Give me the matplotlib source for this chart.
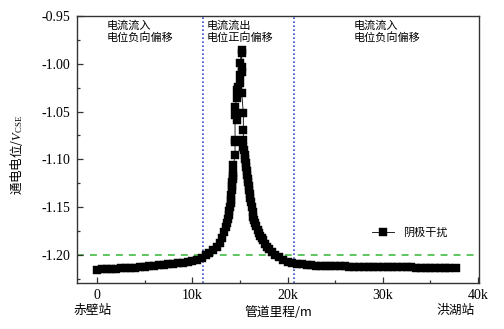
import matplotlib
matplotlib.use("Agg")
import matplotlib.pyplot as plt
from matplotlib.ticker import FixedLocator, MultipleLocator

plt.rcParams['font.family'] = ['Liberation Serif', 'Noto Sans CJK SC']
plt.rcParams['mathtext.fontset'] = 'custom'
plt.rcParams['mathtext.rm'] = 'Liberation Serif'
plt.rcParams['mathtext.it'] = 'Liberation Serif:italic'

CJK = ['Noto Sans CJK SC']

# pipeline mileage (m) and on-potential (V vs CSE)
mileage_west = [0, 500, 1000, 1500, 2000, 2500, 3000, 3500, 4000, 4500,
                5000, 5500, 6000, 6500, 7000, 7500, 8000, 8500, 9000, 9500,
                10000, 10500, 11000, 11400, 11800, 12200, 12600, 12900, 13150,
                13350, 13500, 13650, 13750, 13830, 13900, 13965, 14020, 14070,
                14110, 14140, 14180, 14220, 14260, 14290, 14310, 14310, 14490,
                14490]
potential_west = [-1.2152, -1.2150, -1.2148, -1.2146, -1.2144, -1.2141, -1.2138,
                  -1.2135, -1.2132, -1.2128, -1.2123, -1.2119, -1.2114, -1.2109,
                  -1.2104, -1.2098, -1.2092, -1.2086, -1.2080, -1.2074, -1.2068,
                  -1.2055, -1.2035, -1.2005, -1.1975, -1.1945, -1.1915, -1.1870,
                  -1.1820, -1.1760, -1.1710, -1.1665, -1.1620, -1.1580, -1.1540,
                  -1.1500, -1.1460, -1.1420, -1.1370, -1.1320, -1.1280, -1.1240,
                  -1.1200, -1.1170, -1.1140, -1.1060, -1.0954, -1.0820]

mileage_peak = [14490, 14490, 14670, 14490, 14670, 14670, 14805, 15015, 15015,
                15190, 15190, 15190, 15015, 15190, 15190, 15360, 15360, 15360,
                15360, 15465, 15540]
potential_peak = [-1.0797, -1.0536, -1.0588, -1.0449, -1.0361, -1.0274, -1.0240,
                  -1.0204, -1.0117, -1.0030, -0.9890, -0.9860, -0.9992, -1.0090,
                  -1.0305, -1.0515, -1.0692, -1.0797, -1.0867, -1.0902, -1.0954]

mileage_east = [15580, 15620, 15660, 15710, 15760, 15810, 15870, 15930, 15990,
                16050, 16110, 16170, 16245, 16330, 16420, 16500, 16590, 16720,
                16860, 17000, 17150, 17300, 17430, 17640, 17850, 18100, 18400,
                18690, 19100, 19550, 20055, 20500, 21000, 21500, 22000, 22500,
                23000, 23500, 24000, 24500, 25000, 25500, 26000, 26500, 27000,
                27500, 28000, 28500, 29000, 29500, 30000, 30500, 31000, 31500,
                32000, 32500, 33000, 33500, 34000, 34500, 35000, 35500, 36000,
                36500, 37000, 37700]
potential_east = [-1.1000, -1.1040, -1.1080, -1.1120, -1.1160, -1.1200, -1.1240,
                  -1.1280, -1.1320, -1.1360, -1.1400, -1.1450, -1.1500, -1.1550,
                  -1.1600, -1.1630, -1.1665, -1.1700, -1.1740, -1.1770, -1.1800,
                  -1.1820, -1.1843, -1.1880, -1.1916, -1.1940, -1.1970, -1.2000,
                  -1.2025, -1.2048, -1.2070, -1.2082, -1.2092, -1.2098, -1.2103,
                  -1.2107, -1.2110, -1.2113, -1.2115, -1.2117, -1.2118, -1.2119,
                  -1.2120, -1.2121, -1.2121, -1.2122, -1.2122, -1.2123, -1.2123,
                  -1.2124, -1.2124, -1.2125, -1.2126, -1.2127, -1.2128, -1.2129,
                  -1.2130, -1.2131, -1.2132, -1.2133, -1.2134, -1.2135, -1.2136,
                  -1.2137, -1.2138, -1.2139]

mileage = mileage_west + mileage_peak + mileage_east
potential = potential_west + potential_peak + potential_east

criterion = -1.20                 # green reference line
boundaries = [11130, 20685]       # blue dotted zone limits

x_ticks = [0, 10000, 20000, 30000, 40000]
x_tick_labels = ['0', '10k', '20k', '30k', '40k']
y_ticks = [-1.20, -1.15, -1.10, -1.05, -1.00, -0.95]
y_tick_labels = ['-1.20', '-1.15', '-1.10', '-1.05', '-1.00', '-0.95']

zone_notes = [(1050, '电流流入\n电位负向偏移'),
              (11550, '电流流出\n电位正向偏移'),
              (26950, '电流流入\n电位负向偏移')]
stations = [(-470, '赤壁站'), (37600, '洪湖站')]

fig = plt.figure(figsize=(5.04, 3.29), dpi=100)
ax = fig.add_axes([0.1528, 0.1398, 0.7976, 0.8116])

ax.axhline(criterion, color='#33b533', lw=1.1, ls=(0, (4.5, 4.0)), zorder=1)
for b in boundaries:
    ax.axvline(b, color='#3a4fc4', lw=1.2, ls=(0, (1, 1.4)), zorder=1)

ax.plot(mileage, potential, color='black', lw=0.6, marker='s', markersize=5.5,
        markeredgewidth=0.3, label='阴极干扰', zorder=3)

ax.set_xlim(-2100, 40100)
ax.set_ylim(-1.2293, -0.95)

ax.xaxis.set_major_locator(FixedLocator(x_ticks))
ax.set_xticklabels(x_tick_labels)
ax.xaxis.set_minor_locator(MultipleLocator(5000))
ax.yaxis.set_major_locator(FixedLocator(y_ticks))
ax.set_yticklabels(y_tick_labels)
ax.yaxis.set_minor_locator(MultipleLocator(0.025))

ax.tick_params(which='both', direction='in', top=False, right=False,
               labelsize=10, color='#333333')
ax.tick_params(which='major', length=4, width=0.9)
ax.tick_params(which='minor', length=2.2, width=0.9)
ax.tick_params(axis='x', pad=4)
ax.tick_params(axis='y', pad=5)
for s in ax.spines.values():
    s.set_linewidth(1.0)
    s.set_color('#333333')

ax.set_xlabel('管道里程/m', family=CJK, fontsize=9.2, labelpad=1)
ax.xaxis.set_label_coords(0.5, -0.085)
ax.set_ylabel('通电电位/$V_{\\mathrm{CSE}}$', family=CJK, fontsize=9)
ax.yaxis.set_label_coords(-0.13, 0.48)

for x, txt in zone_notes:
    ax.text(x, -0.955, txt, family=CJK, fontsize=8, va='top', ha='left',
            linespacing=1.1)
for x, txt in stations:
    ax.text(x, -1.2293 - 0.0285, txt, family=CJK, fontsize=9.2, ha='center',
            va='center')

leg = ax.legend(loc='center left', bbox_to_anchor=(0.734, 0.187), frameon=False,
                borderpad=0, borderaxespad=0, handlelength=2.0,
                handletextpad=0.8, prop={'family': CJK, 'size': 8})

fig.savefig('out.png', dpi=100)
